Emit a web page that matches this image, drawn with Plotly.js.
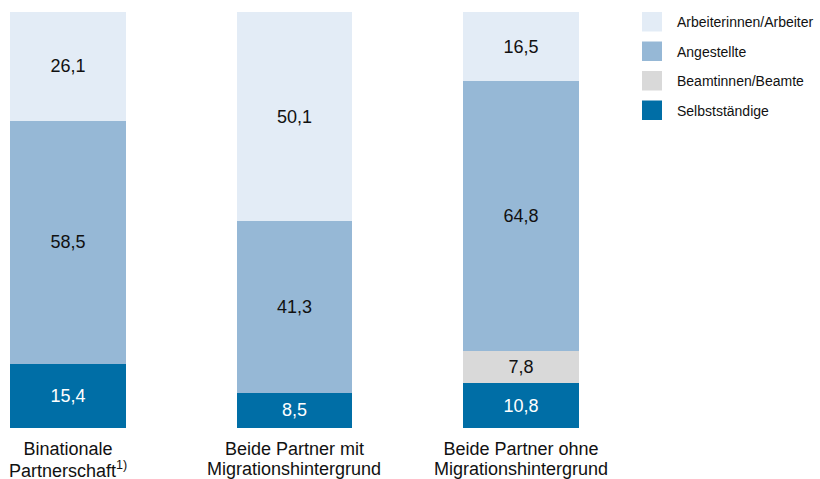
<!DOCTYPE html>
<html>
<head>
<meta charset="utf-8">
<script src="https://cdn.plot.ly/plotly-3.0.1.min.js"></script>
<style>html,body{margin:0;padding:0;background:#fff;}#chart{width:820px;height:479px;}</style>
</head>
<body>
<div id="chart"></div>
<script>
const catLine1 = ['Binationale', 'Beide Partner mit', 'Beide Partner ohne'];
const catLine2 = ['Partnerschaft<sup>1)</sup>', 'Migrationshintergrund', 'Migrationshintergrund'];
const categories = catLine1.map((a, i) => a + ' ' + catLine2[i]);
const selbststaendige = [15.4, 8.5, 10.8];
const beamte = [null, null, 7.8];
const angestellte = [58.5, 41.3, 64.8];
const arbeiter = [26.1, 50.1, 16.5];
const seriesNames = ['Selbstständige', 'Beamtinnen/Beamte', 'Angestellte', 'Arbeiterinnen/Arbeiter'];
const legendOrder = ['Arbeiterinnen/Arbeiter', 'Angestellte', 'Beamtinnen/Beamte', 'Selbstständige'];

const colors = {
  'Selbstständige': '#006ea6',
  'Beamtinnen/Beamte': '#d9d9d9',
  'Angestellte': '#96b8d6',
  'Arbeiterinnen/Arbeiter': '#e3ecf6'
};
const textColors = {
  'Selbstständige': '#ffffff',
  'Beamtinnen/Beamte': '#111111',
  'Angestellte': '#111111',
  'Arbeiterinnen/Arbeiter': '#111111'
};
const seriesValues = [selbststaendige, beamte, angestellte, arbeiter];

const FONT = 'Liberation Sans, Arial, sans-serif';
const traces = seriesNames.map((name, i) => ({
  type: 'bar',
  name: name,
  x: categories,
  y: seriesValues[i],
  marker: {color: colors[name], line: {width: 0}},
  texttemplate: '%{y:.1f}',
  textposition: 'inside',
  insidetextanchor: 'middle',
  textangle: 0,
  constraintext: 'none',
  textfont: {family: FONT, size: 18, color: textColors[name]},
  hoverinfo: 'skip',
  showlegend: false
}));

const W = 820, H = 479;
const M = {l: 0, r: 200, t: 12, b: 51};
const pw = W - M.l - M.r, ph = H - M.t - M.b;
const px2x = p => (p - M.l) / pw;
const py2y = p => (H - M.b - p) / ph;

const shapes = [];
const annotations = [];
legendOrder.forEach((name, i) => {
  const top = 12 + i * 29.5;
  shapes.push({
    type: 'rect', xref: 'paper', yref: 'paper',
    x0: px2x(642), x1: px2x(662), y0: py2y(top + 19.5), y1: py2y(top),
    fillcolor: colors[name], line: {width: 0}
  });
  annotations.push({
    xref: 'paper', yref: 'paper', x: px2x(675), y: py2y(top + 10),
    xanchor: 'left', yanchor: 'middle', showarrow: false,
    text: name, font: {family: FONT, size: 14, color: '#111111'}
  });
});
categories.forEach((c, i) => {
  annotations.push({
    xref: 'x', yref: 'paper', x: c, y: 0, yshift: -41,
    xanchor: 'center', yanchor: 'middle', showarrow: false,
    text: catLine2[i], font: {family: FONT, size: 18, color: '#111111'}
  });
});

const layout = {
  width: W, height: H,
  margin: M,
  paper_bgcolor: '#ffffff', plot_bgcolor: '#ffffff',
  barmode: 'stack',
  bargap: 0.492,
  separators: ',.',
  showlegend: false,
  font: {family: FONT, color: '#111111'},
  xaxis: {
    type: 'category',
    range: [-0.3, 2.437],
    tickvals: categories,
    ticktext: catLine1,
    ticklabelstandoff: 8,
    showgrid: false, zeroline: false, showline: false, ticks: '',
    tickfont: {family: FONT, size: 18, color: '#111111'},
    fixedrange: true
  },
  yaxis: {
    range: [0, 100],
    showgrid: false, zeroline: false, showline: false,
    showticklabels: false, ticks: '',
    fixedrange: true
  },
  shapes: shapes,
  annotations: annotations
};

Plotly.newPlot('chart', traces, layout, {displayModeBar: false, staticPlot: true});
</script>
</body>
</html>
